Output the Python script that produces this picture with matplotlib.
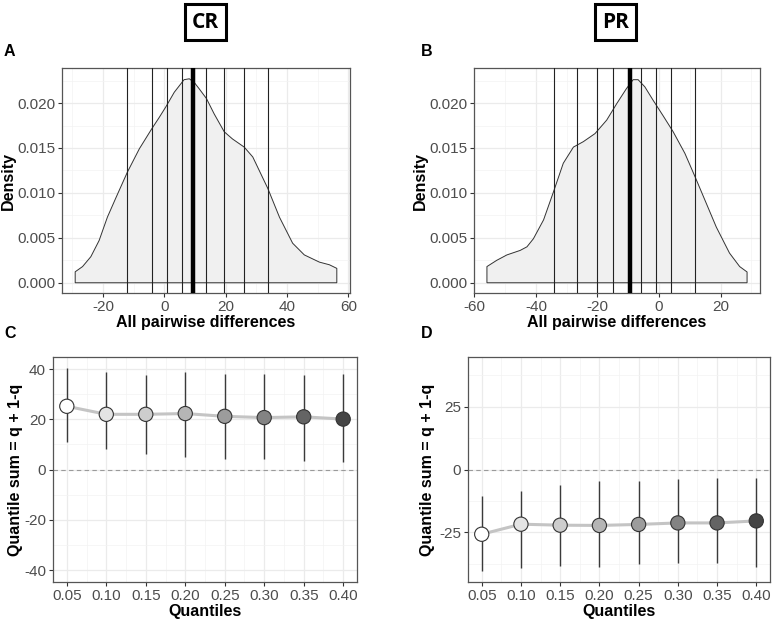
import matplotlib
matplotlib.use("Agg")
import matplotlib.pyplot as plt
from matplotlib.ticker import FixedLocator
import numpy as np

plt.rcParams['font.family'] = ['Liberation Sans', 'DejaVu Sans']

# --- density curves ---
cr_x = [-29.1, -26.7, -24.0, -21.3, -18.6, -15.9, -12.1, -8.2, -4.2, -1.7, 0.5, 3.2, 6.4,
        8.1, 9.7, 11.3, 13.7, 16.2, 19.5, 22.2, 26.0, 28.8, 30.9, 33.7, 37.5, 41.8, 45.6,
        50.5, 53.8, 56.2]
cr_y = [0.00122, 0.0018, 0.0029, 0.0047, 0.0073, 0.0094, 0.0123, 0.0149, 0.0171, 0.0184,
        0.0196, 0.0212, 0.0226, 0.0227, 0.0223, 0.0216, 0.0205, 0.0188, 0.0168, 0.0160,
        0.0151, 0.0140, 0.0125, 0.0105, 0.0073, 0.0044, 0.0031, 0.0023, 0.0020, 0.0016]
cr_lines = [-12.05, -4.2, 0.7, 5.6, 13.7, 19.5, 25.9, 33.8]
cr_median = 9.2

pr_x = [-55.9, -52.7, -49.4, -45.1, -42.9, -40.8, -37.5, -34.3, -31.1, -27.8, -24.6, -20.8,
        -17.0, -13.8, -10.6, -8.4, -6.8, -4.6, -1.9, 1.3, 4.6, 8.4, 11.7, 15.4, 18.6, 22.9,
        26.2, 28.6]
pr_y = [0.0018, 0.0025, 0.0031, 0.0036, 0.0040, 0.0049, 0.0070, 0.0101, 0.0133, 0.0151,
        0.0157, 0.0166, 0.0181, 0.0199, 0.0216, 0.0226, 0.0226, 0.0218, 0.0203, 0.0186,
        0.0168, 0.0144, 0.0118, 0.0088, 0.0062, 0.0033, 0.0018, 0.0012]
pr_lines = [-34.1, -26.6, -20.05, -14.9, -6.0, -0.84, 3.8, 11.7]
pr_median = -9.4

# --- quantile sums ---
quantiles = [0.05, 0.10, 0.15, 0.20, 0.25, 0.30, 0.35, 0.40]
q_labels = ['0.05', '0.10', '0.15', '0.20', '0.25', '0.30', '0.35', '0.40']
cr_sum = [25.2, 22.0, 22.0, 22.3, 21.2, 20.7, 21.0, 20.1]
cr_lo = [10.8, 8.4, 6.4, 5.0, 4.4, 4.4, 3.5, 3.1]
cr_hi = [40.6, 38.9, 37.6, 38.9, 38.0, 38.0, 37.6, 38.2]
pr_sum = [-25.7, -21.7, -22.1, -22.2, -21.8, -21.2, -21.2, -20.4]
pr_lo = [-40.2, -39.0, -38.4, -38.6, -37.6, -37.3, -37.3, -38.9]
pr_hi = [-10.4, -8.6, -6.2, -4.6, -4.4, -3.8, -3.2, -3.2]
point_fill = ['#ffffff', '#e4e4e4', '#cdcdcd', '#b5b5b5', '#9c9c9c', '#838383', '#646464', '#454545']

W, H = 774, 620
fig = plt.figure(figsize=(W / 100, H / 100), dpi=100)


def px_axes(l, t, r, b):
    return fig.add_axes([l / W, 1 - b / H, (r - l) / W, (b - t) / H])


def style(ax, xmaj, xmin, ymaj, ymin):
    ax.set_facecolor('white')
    ax.xaxis.set_major_locator(FixedLocator(xmaj))
    ax.xaxis.set_minor_locator(FixedLocator(xmin))
    ax.yaxis.set_major_locator(FixedLocator(ymaj))
    ax.yaxis.set_minor_locator(FixedLocator(ymin))
    ax.grid(which='major', color='#ebebeb', lw=0.9, zorder=0)
    ax.grid(which='minor', color='#f3f3f3', lw=0.5, zorder=0)
    ax.set_axisbelow(True)
    for s in ax.spines.values():
        s.set_color('#555555')
        s.set_linewidth(0.9)
    ax.tick_params(which='major', length=3, width=0.8, color='#333333',
                   labelsize=11, labelcolor='#4d4d4d', pad=2)
    ax.tick_params(which='minor', length=0)


def density_panel(ax, xs, ys, lines, med, xlim, xmaj, xmin):
    px = [xs[0]] + xs + [xs[-1]]
    py = [0] + ys + [0]
    ax.fill(px, py, facecolor='#f0f0f0', edgecolor='#333333', lw=0.7, zorder=2)
    for v in lines:
        ax.axvline(v, color='#222222', lw=0.8, zorder=3)
    ax.axvline(med, color='black', lw=3.2, zorder=4)
    ax.set_xlim(*xlim)
    ax.set_ylim(-0.00114, 0.0239)
    style(ax, xmaj, xmin, [0, 0.005, 0.01, 0.015, 0.02],
          [0.0025, 0.0075, 0.0125, 0.0175, 0.0225])
    ax.set_yticklabels(['0.000', '0.005', '0.010', '0.015', '0.020'])
    ax.set_xticklabels([f'{v:g}' for v in xmaj])
    ax.set_ylabel('Density', fontsize=11.5, fontweight='bold', labelpad=1)
    ax.set_xlabel('All pairwise differences', fontsize=11.5, fontweight='bold', labelpad=1)


def quant_panel(ax, vals, lo, hi, ymaj, ymin, pad):
    ax.axhline(0, color='#9a9a9a', lw=0.8, ls=(0, (4, 3)), zorder=1)
    ax.plot(quantiles, vals, color='#c4c4c4', lw=2.2, zorder=2, solid_capstyle='round')
    ax.vlines(quantiles, lo, hi, color='#3a3a3a', lw=1.0, zorder=3)
    ax.scatter(quantiles, vals, s=105, c=point_fill, edgecolors='#333333',
               linewidths=0.8, zorder=4)
    ax.set_xlim(0.0325, 0.4175)
    ax.set_ylim(-44.7, 44.8)
    style(ax, quantiles, [0.075, 0.125, 0.175, 0.225, 0.275, 0.325, 0.375],
          ymaj, ymin)
    ax.set_xticklabels(q_labels)
    ax.set_yticklabels([f'{v:g}' for v in ymaj])
    ax.set_ylabel('Quantile sum = q + 1-q', fontsize=11.5, fontweight='bold', labelpad=pad)
    ax.set_xlabel('Quantiles', fontsize=11.5, fontweight='bold', labelpad=1)


axA = px_axes(62, 68, 350, 293)
density_panel(axA, cr_x, cr_y, cr_lines, cr_median, (-33.4, 60.5),
              [-20, 0, 20, 40, 60], [-30, -10, 10, 30, 50])

axB = px_axes(474, 68, 760, 293)
density_panel(axB, pr_x, pr_y, pr_lines, pr_median, (-60.1, 32.8),
              [-60, -40, -20, 0, 20], [-50, -30, -10, 10, 30])

axC = px_axes(53, 357, 357, 582)
quant_panel(axC, cr_sum, cr_lo, cr_hi, [-40, -20, 0, 20, 40], [-30, -10, 10, 30], 1)

axD = px_axes(468, 357, 770, 582)
quant_panel(axD, pr_sum, pr_lo, pr_hi, [-25, 0, 25], [-37.5, -12.5, 12.5, 37.5], 3)

# column headers in boxes
for txt, xc in [('CR', 205.5), ('PR', 615.5)]:
    fig.text(xc / W, 1 - 22 / H, txt, ha='center', va='center', fontsize=15,
             fontweight='bold', family=['Open Sans', 'DejaVu Sans'],
             bbox=dict(boxstyle='square,pad=0.35', fc='white', ec='black', lw=2.2))

# panel letters
for txt, x, y in [('A', 4, 52), ('B', 421, 52), ('C', 4, 333), ('D', 421, 333)]:
    fig.text(x / W, 1 - y / H, txt, ha='left', va='center', fontsize=11.5, fontweight='bold')

fig.savefig('out.png', dpi=100)
